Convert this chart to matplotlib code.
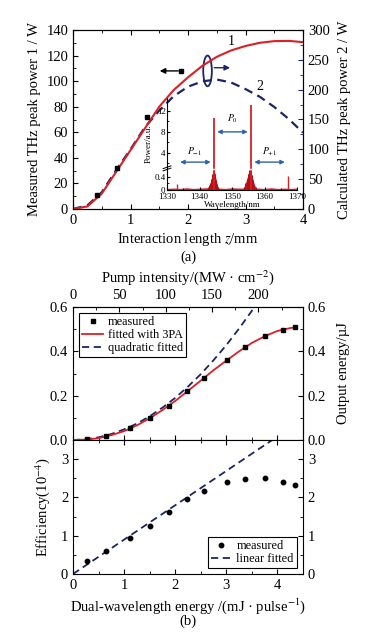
import numpy as np
import matplotlib
matplotlib.use('Agg')
import matplotlib.pyplot as plt
from matplotlib.patches import Ellipse
from matplotlib.ticker import MultipleLocator, FixedLocator

plt.rcParams['font.family'] = ['Liberation Serif', 'DejaVu Serif']
plt.rcParams['mathtext.fontset'] = 'stix'
plt.rcParams['xtick.direction'] = 'in'
plt.rcParams['ytick.direction'] = 'in'

RED = '#dc1f26'
NAVY = '#1c2466'
BLUE = '#2d62b0'

# ---- panel (a) data ----
z_meas = [0.42, 0.77, 1.29]
p_meas = [11, 32, 72]

z_curve = [0, 0.25, 0.5, 0.75, 1.0, 1.25, 1.5, 1.75, 2.0, 2.25, 2.5, 2.75,
           3.0, 3.25, 3.5, 3.75, 4.0]
p1_curve = [0, 2, 12, 29, 46, 63, 80, 93, 103, 112, 119, 124,
            127.5, 130, 131.3, 131.5, 130.5]
p2_curve = [0, 6, 28, 65, 100, 137, 165, 189, 205, 214, 217, 212,
            201, 188, 171, 151, 128]

# inset spectrum
wl_main = [1344.5, 1355.8]
h_main = [10.7, 13.2]
wl_side = [1333.2, 1367.1]
h_side = [0.17, 0.43]
wl_c1 = [1342.4, 1342.7, 1343.0, 1343.3, 1343.6, 1343.9, 1344.2, 1344.5,
         1344.8, 1345.1, 1345.4, 1345.7, 1346.0]
h_c1 = [0.04, 0.08, 0.14, 0.22, 0.34, 0.48, 0.62, 0.62, 0.5, 0.32, 0.18, 0.09, 0.04]
wl_c2 = [1353.3, 1353.7, 1354.1, 1354.5, 1354.9, 1355.3, 1355.7, 1356.1,
         1356.5, 1356.9, 1357.3, 1357.6]
h_c2 = [0.04, 0.1, 0.2, 0.33, 0.48, 0.62, 0.62, 0.46, 0.3, 0.16, 0.08, 0.03]
wl_base = [1330, 1332, 1334, 1336, 1338, 1340, 1342, 1346, 1348, 1350,
           1352, 1358, 1360, 1362, 1364, 1366, 1368, 1370]
h_base = [0.05, 0.06, 0.05, 0.07, 0.05, 0.06, 0.07, 0.06, 0.05, 0.07,
          0.06, 0.06, 0.05, 0.07, 0.05, 0.06, 0.05, 0.06]

# ---- panel (b) data ----
energy = [0.27, 0.64, 1.12, 1.51, 1.87, 2.23, 2.57, 3.01, 3.37, 3.75, 4.11, 4.35]
out_energy = [0.004, 0.018, 0.052, 0.098, 0.155, 0.222, 0.28, 0.362, 0.42,
              0.467, 0.497, 0.51]
efficiency = [0.33, 0.6, 0.95, 1.26, 1.63, 1.97, 2.16, 2.39, 2.47, 2.5, 2.39, 2.32]

e_fit = [0, 0.25, 0.5, 0.75, 1.0, 1.25, 1.5, 1.75, 2.0, 2.25, 2.5, 2.75,
         3.0, 3.25, 3.5, 3.75, 4.0, 4.25, 4.35]
fit_3pa = [0, 0.002, 0.008, 0.022, 0.04, 0.066, 0.098, 0.135, 0.176, 0.222,
           0.268, 0.315, 0.358, 0.4, 0.438, 0.468, 0.492, 0.505, 0.508]
e_quad = [0, 0.25, 0.5, 0.75, 1.0, 1.25, 1.5, 1.75, 2.0, 2.25, 2.5, 2.75,
          3.0, 3.25, 3.5, 3.55]
fit_quad = [0, 0.003, 0.012, 0.027, 0.048, 0.074, 0.107, 0.146, 0.19, 0.241,
            0.297, 0.36, 0.428, 0.503, 0.583, 0.6]
e_lin = [0, 4.5]
fit_lin = [0, 4.04]

W, H = 384, 637
fig = plt.figure(figsize=(W / 100, H / 100), dpi=100)


def rect(l, t, r, b):
    return [l / W, 1 - b / H, (r - l) / W, (b - t) / H]


# ================= (a) =================
ax = fig.add_axes(rect(73, 30, 303, 209))
axr = ax.twinx()
axr.plot(z_curve, p2_curve, '--', color=NAVY, lw=1.6, dashes=(4, 2.5))
axr.set_ylim(0, 300)
axr.yaxis.set_major_locator(MultipleLocator(50))
axr.yaxis.set_minor_locator(MultipleLocator(25))
axr.spines['right'].set_color(NAVY)
axr.tick_params(axis='y', which='both', colors=NAVY, labelcolor='black', labelsize=10.5)
axr.set_ylabel('Calculated THz peak power 2 / W', fontsize=10.5, labelpad=6)

ax.set_zorder(axr.get_zorder() + 1)
ax.patch.set_visible(False)
ax.plot(z_curve, p1_curve, color=RED, lw=1.5)
ax.plot(z_meas, p_meas, 's', color='black', ms=3.5)
ax.set_xlim(0, 4)
ax.set_ylim(0, 140)
ax.xaxis.set_major_locator(MultipleLocator(1))
ax.xaxis.set_minor_locator(MultipleLocator(0.5))
ax.yaxis.set_major_locator(MultipleLocator(20))
ax.yaxis.set_minor_locator(MultipleLocator(10))
ax.tick_params(which='both', top=True, labelsize=10.5)
ax.set_ylabel('Measured THz peak power 1 / W', fontsize=10.5, labelpad=4)
ax.set_xlabel('Interaction length $z$/mm', fontsize=10.5, labelpad=3)
fig.text(188 / W, 1 - 257 / H, '(a)', ha='center', va='center', fontsize=10.5)

ax.text(2.75, 131, '1', fontsize=10, ha='center', va='center')
ax.text(3.25, 96, '2', fontsize=10, ha='center', va='center')
ax.annotate('', xy=(1.46, 108), xytext=(1.88, 108),
            arrowprops=dict(arrowstyle='-|>', color='black', lw=1, mutation_scale=8))
ax.plot([1.88], [108], 's', color='black', ms=3.2)
ax.add_patch(Ellipse((2.34, 108), width=0.15, height=24, fill=False,
                     edgecolor=NAVY, lw=1.3))
ax.annotate('', xy=(2.78, 110.5), xytext=(2.41, 110.5),
            arrowprops=dict(arrowstyle='-|>', color=NAVY, lw=1, mutation_scale=8))

# inset
ins = fig.add_axes(rect(167, 98, 297, 190))
ins.patch.set_visible(False)


def fwd(y):
    y = np.asarray(y, dtype=float)
    return np.where(y <= 0.6, 32.5 * y, 19.5 + (y - 0.6) * 5.2)


def inv(f):
    f = np.asarray(f, dtype=float)
    return np.where(f <= 19.5, f / 32.5, 0.6 + (f - 19.5) / 5.2)


ins.set_yscale('function', functions=(fwd, inv))
ins.fill_between(wl_base, 0, h_base, color=RED, lw=0)
ins.fill_between(wl_c1, 0, h_c1, color='#c8141c', lw=0)
ins.fill_between(wl_c2, 0, h_c2, color='#c8141c', lw=0)
ins.vlines(wl_c1, 0, h_c1, color='#b01018', lw=0.7)
ins.vlines(wl_c2, 0, h_c2, color='#b01018', lw=0.7)
ins.vlines(wl_main, 0, h_main, color=RED, lw=1.3)
ins.vlines(wl_side, 0, h_side, color=RED, lw=1.0)
ins.axhline(0.9, color='white', lw=1.0)
ins.set_xlim(1330, 1370)
ins.set_ylim(0, 14.5)
ins.yaxis.set_major_locator(FixedLocator([0, 0.4, 4, 8, 12]))
ins.yaxis.set_minor_locator(FixedLocator([0.2, 2, 6, 10, 14]))
ins.set_yticklabels(['0', '0.4', '4', '8', '12'])
ins.xaxis.set_major_locator(MultipleLocator(10))
ins.xaxis.set_minor_locator(MultipleLocator(5))
ins.tick_params(which='both', labelsize=6.5, length=2)
ins.tick_params(axis='x', pad=2.5)
ins.tick_params(axis='y', pad=1)
ins.tick_params(which='minor', length=1.2)
for s in ('top', 'right'):
    ins.spines[s].set_visible(False)
ins.set_xlabel('Wavelength/nm', fontsize=6.5, labelpad=0)
ins.set_ylabel('Power/a.u.', fontsize=6.5, labelpad=1)
# axis break mark
for dy in (-0.012, 0.012):
    ins.plot([-0.03, 0.03], [0.235 + dy - 0.015, 0.235 + dy + 0.015], color='black',
             lw=0.7, transform=ins.transAxes, clip_on=False)

arr = dict(arrowstyle='<|-|>', color=BLUE, lw=1, mutation_scale=6)
ins.annotate('', xy=(1344.6, 8), xytext=(1355.7, 8), arrowprops=arr)
ins.annotate('', xy=(1333.2, 2.2), xytext=(1344.3, 2.2), arrowprops=arr)
ins.annotate('', xy=(1356.0, 2.2), xytext=(1367.1, 2.2), arrowprops=arr)
ins.text(1350.2, 9.3, '$P_0$', fontsize=7, ha='center', va='bottom')
ins.text(1338.6, 2.9, '$P_{-1}$', fontsize=7, ha='center', va='bottom')
ins.text(1361.6, 2.9, '$P_{+1}$', fontsize=7, ha='center', va='bottom')

# ================= (b) upper =================
ax1 = fig.add_axes(rect(73, 307, 303, 440))
ax1.plot(e_quad, fit_quad, '--', color=NAVY, lw=1.3, dashes=(4, 2.5), label='quadratic fitted')
ax1.plot(e_fit, fit_3pa, color=RED, lw=1.3, label='fitted with 3PA')
ax1.plot(energy, out_energy, 's', color='black', ms=3.2, label='measured')
ax1.set_xlim(0, 4.5)
ax1.set_ylim(0, 0.6)
ax1.xaxis.set_major_locator(MultipleLocator(1))
ax1.xaxis.set_minor_locator(MultipleLocator(0.5))
ax1.yaxis.set_major_locator(MultipleLocator(0.2))
ax1.yaxis.set_minor_locator(MultipleLocator(0.1))
ax1.tick_params(which='both', right=True, labelright=True, bottom=True,
                labelbottom=False, labelsize=10.5)
ax1.yaxis.set_major_formatter(matplotlib.ticker.FormatStrFormatter('%.1f'))
ax1r = ax1.secondary_yaxis('right')
ax1r.yaxis.set_major_locator(MultipleLocator(0.2))
ax1r.set_yticklabels([])
ax1r.set_ylabel('Output energy/µJ', fontsize=10.5, labelpad=21)
ax1r.tick_params(which='both', length=0)

top = ax1.secondary_xaxis('top', functions=(lambda e: np.asarray(e) * 248 / 4.5,
                                            lambda p: np.asarray(p) * 4.5 / 248))
top.xaxis.set_major_locator(MultipleLocator(50))
top.xaxis.set_minor_locator(MultipleLocator(25))
top.tick_params(which='both', direction='in', labelsize=10.5)
top.set_xlabel('Pump intensity/(MW · cm$^{-2}$)', fontsize=10.5, labelpad=5)

leg_kw = dict(fontsize=8.8, frameon=True, fancybox=False, edgecolor='black', framealpha=1,
              handlelength=1.7, handletextpad=0.4, borderpad=0.25, labelspacing=0.08,
              borderaxespad=0.5)
h, l = ax1.get_legend_handles_labels()
ax1.legend([h[2], h[1], h[0]], [l[2], l[1], l[0]], loc='upper left',
           **leg_kw).get_frame().set_linewidth(0.8)

# ================= (b) lower =================
ax2 = fig.add_axes(rect(73, 440, 303, 574))
ax2.plot(e_lin, fit_lin, '--', color=NAVY, lw=1.3, dashes=(4, 2.5), label='linear fitted')
ax2.plot(energy, efficiency, 'o', color='black', ms=3.2, label='measured')
ax2.set_xlim(0, 4.5)
ax2.set_ylim(0, 3.5)
ax2.xaxis.set_major_locator(MultipleLocator(1))
ax2.xaxis.set_minor_locator(MultipleLocator(0.5))
ax2.yaxis.set_major_locator(MultipleLocator(1))
ax2.yaxis.set_minor_locator(MultipleLocator(0.5))
ax2.tick_params(which='both', right=True, labelright=True, top=True, labelsize=10.5)
ax2.set_ylabel('Efficiency(10$^{-4}$)', fontsize=10.5, labelpad=6)
ax2.set_xlabel('Dual-wavelength energy /(mJ · pulse$^{-1}$)', fontsize=10.5, labelpad=3)
h, l = ax2.get_legend_handles_labels()
ax2.legend([h[1], h[0]], [l[1], l[0]], loc='lower right',
           **leg_kw).get_frame().set_linewidth(0.8)
fig.text(188 / W, 1 - 621 / H, '(b)', ha='center', va='center', fontsize=10.5)

fig.savefig('out.png', dpi=100)
